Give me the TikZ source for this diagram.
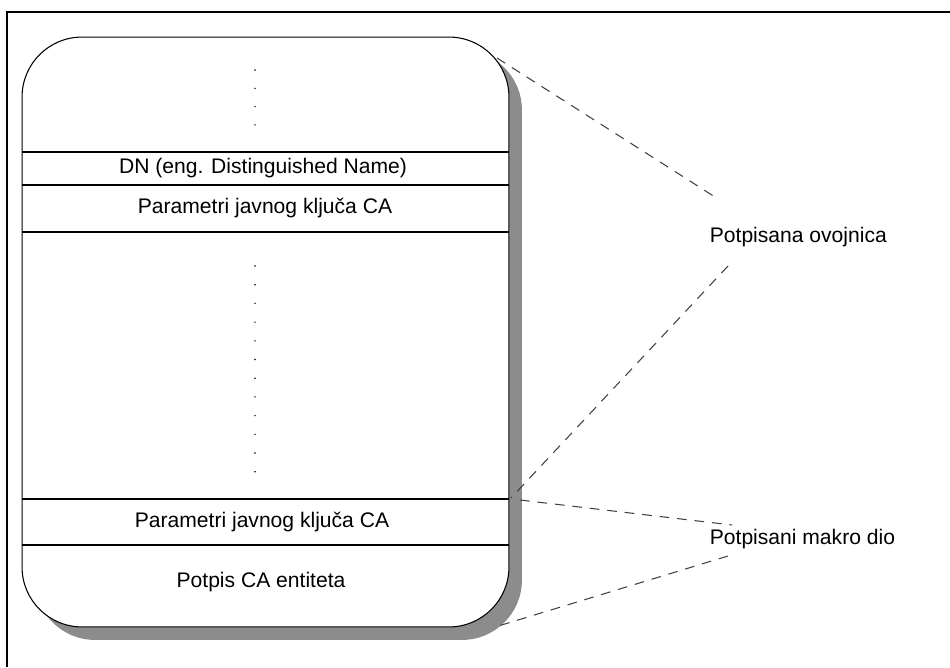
\documentclass[tikz,border=0pt]{standalone}
\usepackage{fontspec}
\setmainfont{Liberation Sans}
\usepackage{tikz}
\usetikzlibrary{shadows,positioning}
\def\rad{1.2cm}
\def\dotgap{18.7}
\tikzstyle{envelope} = [draw=black, line width=0.6pt, fill=white, rounded corners=\rad,
  minimum width=9.74cm, minimum height=11.8cm,
  drop shadow={shadow xshift=0.26cm, shadow yshift=-0.26cm, fill=black!45, opacity=1}]
\tikzstyle{field} = [font=\fontsize{12}{14}\selectfont, inner sep=2pt]
\tikzstyle{rowline} = [line width=0.8pt]
\tikzstyle{link} = [black!75, line width=0.6pt, dash pattern=on 5.5pt off 4.5pt]

\begin{document}
\begin{tikzpicture}[x=0.02cm,y=-0.02cm]
        \useasboundingbox (0,0) rectangle (950,667);
        \draw[line width=1.1pt] (7,667) -- (7,12) -- (950,12);
        % certificate
        \node[envelope] (env) at (265.5,332) {};
        \foreach \y in {152,185,232,499,545}
          \draw[rowline] (env.west |- 0,\y) -- (env.east |- 0,\y);
        \foreach \i in {0,...,3}
          \fill (255,70+\i*18.3) circle (0.8);
        \foreach \i in {0,...,11}
          \fill (255,266+\i*\dotgap) circle (0.8);
        \node[field] (dn) at (263,168) {DN (eng. Distinguished Name)};
        \node[field] (pkA) at (265,208) {Parametri javnog ključa CA};
        \node[field] (pkB) at (262,522) {Parametri javnog ključa CA};
        \node[field] (sig) at (261,582) {Potpis CA entiteta};
        % labels
        \node[field, anchor=west] (ovoj) at (706,237) {Potpisana ovojnica};
        \node[field, anchor=west] (makro) at (706,539) {Potpisani makro dio};
        \coordinate (tr) at (497,58);
        \coordinate (mid) at (511,498);
        \coordinate (midB) at (520,500);
        \coordinate (br) at (495,627);
        \coordinate (o1) at ([shift={(9,-40)}]ovoj.west);
        \coordinate (o2) at ([shift={(22,29)}]ovoj.west);
        \coordinate (m1) at ([shift={(26,-14)}]makro.west);
        \coordinate (m2) at ([shift={(22,17)}]makro.west);
        \draw[link] (tr) -- (o1);
        \draw[link] (o2) -- (mid);
        \draw[link] (midB) -- (m1);
        \draw[link] (m2) -- (br);
\end{tikzpicture}
\end{document}
